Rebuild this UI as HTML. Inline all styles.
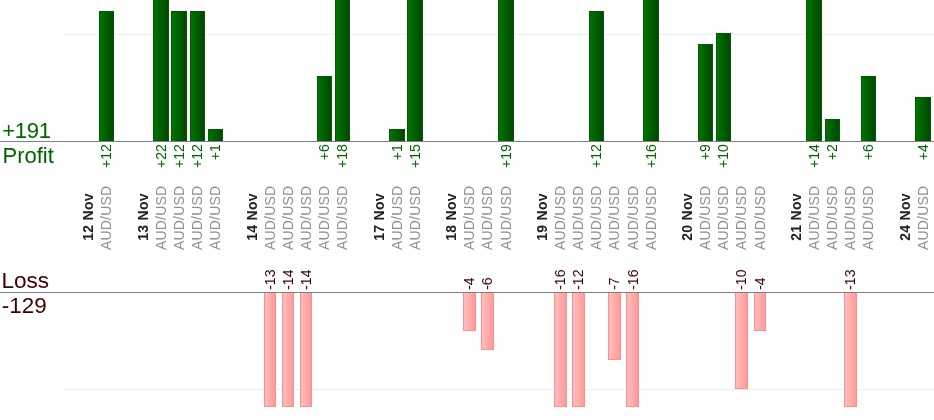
<!DOCTYPE html>
<html><head><meta charset="utf-8"><title>chart</title>
<style>
html,body{margin:0;padding:0;background:#fff;}
body{width:934px;height:420px;overflow:hidden;position:relative;font-family:"Liberation Sans",sans-serif;}
svg{position:absolute;left:0;top:0;display:block;will-change:transform;}
text{font-family:"Liberation Sans",sans-serif;}
.v{font-size:14px;}
.d{font-size:14px;font-weight:bold;fill:#222;letter-spacing:0.28px;}
.p{font-size:14px;fill:#909090;letter-spacing:0.17px;}
.g{fill:#006400;}
.m{fill:#400000;}
.big{font-size:22px;}
</style></head><body>
<svg width="934" height="420" viewBox="0 0 934 420">
<defs>
<linearGradient id="g" x1="0" y1="0" x2="1" y2="0"><stop offset="0" stop-color="#007600"/><stop offset="1" stop-color="#004600"/></linearGradient>
<linearGradient id="r" x1="0" y1="0" x2="1" y2="0"><stop offset="0" stop-color="#ffc0c0"/><stop offset="1" stop-color="#ff9898"/></linearGradient>
</defs>
<rect x="63" y="34" width="871" height="1" fill="#eeeeee"/>
<rect x="63" y="389" width="871" height="1" fill="#eeeeee"/>

<rect x="99.5" y="11.5" width="14" height="130" fill="url(#g)" stroke="#005c00" stroke-width="1"/>
<rect x="153.5" y="-4.5" width="15" height="146" fill="url(#g)" stroke="#005c00" stroke-width="1"/>
<rect x="171.5" y="11.5" width="15" height="130" fill="url(#g)" stroke="#005c00" stroke-width="1"/>
<rect x="190.5" y="11.5" width="14" height="130" fill="url(#g)" stroke="#005c00" stroke-width="1"/>
<rect x="208.5" y="129.5" width="14" height="12" fill="url(#g)" stroke="#005c00" stroke-width="1"/>
<rect x="317.5" y="76.5" width="14" height="65" fill="url(#g)" stroke="#005c00" stroke-width="1"/>
<rect x="335.5" y="-4.5" width="14" height="146" fill="url(#g)" stroke="#005c00" stroke-width="1"/>
<rect x="389.5" y="129.5" width="15" height="12" fill="url(#g)" stroke="#005c00" stroke-width="1"/>
<rect x="407.5" y="-4.5" width="15" height="146" fill="url(#g)" stroke="#005c00" stroke-width="1"/>
<rect x="498.5" y="-4.5" width="15" height="146" fill="url(#g)" stroke="#005c00" stroke-width="1"/>
<rect x="589.5" y="11.5" width="14" height="130" fill="url(#g)" stroke="#005c00" stroke-width="1"/>
<rect x="643.5" y="-4.5" width="15" height="146" fill="url(#g)" stroke="#005c00" stroke-width="1"/>
<rect x="698.5" y="44.5" width="14" height="97" fill="url(#g)" stroke="#005c00" stroke-width="1"/>
<rect x="716.5" y="33.5" width="14" height="108" fill="url(#g)" stroke="#005c00" stroke-width="1"/>
<rect x="806.5" y="-4.5" width="15" height="146" fill="url(#g)" stroke="#005c00" stroke-width="1"/>
<rect x="825.5" y="119.5" width="14" height="22" fill="url(#g)" stroke="#005c00" stroke-width="1"/>
<rect x="861.5" y="76.5" width="14" height="65" fill="url(#g)" stroke="#005c00" stroke-width="1"/>
<rect x="915.5" y="97.5" width="15" height="44" fill="url(#g)" stroke="#005c00" stroke-width="1"/>
<rect x="264.5" y="292.5" width="11" height="114" fill="url(#r)" stroke="#ff8e8e" stroke-width="1"/>
<rect x="282.5" y="292.5" width="11" height="114" fill="url(#r)" stroke="#ff8e8e" stroke-width="1"/>
<rect x="300.5" y="292.5" width="11" height="114" fill="url(#r)" stroke="#ff8e8e" stroke-width="1"/>
<rect x="463.5" y="292.5" width="12" height="38" fill="url(#r)" stroke="#ff8e8e" stroke-width="1"/>
<rect x="481.5" y="292.5" width="12" height="57" fill="url(#r)" stroke="#ff8e8e" stroke-width="1"/>
<rect x="554.5" y="292.5" width="12" height="114" fill="url(#r)" stroke="#ff8e8e" stroke-width="1"/>
<rect x="572.5" y="292.5" width="12" height="114" fill="url(#r)" stroke="#ff8e8e" stroke-width="1"/>
<rect x="608.5" y="292.5" width="12" height="67" fill="url(#r)" stroke="#ff8e8e" stroke-width="1"/>
<rect x="626.5" y="292.5" width="12" height="114" fill="url(#r)" stroke="#ff8e8e" stroke-width="1"/>
<rect x="735.5" y="292.5" width="12" height="96" fill="url(#r)" stroke="#ff8e8e" stroke-width="1"/>
<rect x="754.5" y="292.5" width="11" height="38" fill="url(#r)" stroke="#ff8e8e" stroke-width="1"/>
<rect x="844.5" y="292.5" width="12" height="114" fill="url(#r)" stroke="#ff8e8e" stroke-width="1"/>
<rect x="0" y="141" width="934" height="1" fill="#808080"/>
<rect x="0" y="292" width="934" height="1" fill="#808080"/>
<text class="v g" transform="translate(111.34,144.2) rotate(-90)" text-anchor="end">+12</text>
<text class="v g" transform="translate(165.78,144.2) rotate(-90)" text-anchor="end">+22</text>
<text class="v g" transform="translate(183.92,144.2) rotate(-90)" text-anchor="end">+12</text>
<text class="v g" transform="translate(202.06,144.2) rotate(-90)" text-anchor="end">+12</text>
<text class="v g" transform="translate(220.21,144.2) rotate(-90)" text-anchor="end">+1</text>
<text class="v g" transform="translate(329.07,144.2) rotate(-90)" text-anchor="end">+6</text>
<text class="v g" transform="translate(347.22,144.2) rotate(-90)" text-anchor="end">+18</text>
<text class="v g" transform="translate(401.65,144.2) rotate(-90)" text-anchor="end">+1</text>
<text class="v g" transform="translate(419.79,144.2) rotate(-90)" text-anchor="end">+15</text>
<text class="v g" transform="translate(510.51,144.2) rotate(-90)" text-anchor="end">+19</text>
<text class="v g" transform="translate(601.23,144.2) rotate(-90)" text-anchor="end">+12</text>
<text class="v g" transform="translate(655.66,144.2) rotate(-90)" text-anchor="end">+16</text>
<text class="v g" transform="translate(710.10,144.2) rotate(-90)" text-anchor="end">+9</text>
<text class="v g" transform="translate(728.24,144.2) rotate(-90)" text-anchor="end">+10</text>
<text class="v g" transform="translate(818.96,144.2) rotate(-90)" text-anchor="end">+14</text>
<text class="v g" transform="translate(837.10,144.2) rotate(-90)" text-anchor="end">+2</text>
<text class="v g" transform="translate(873.39,144.2) rotate(-90)" text-anchor="end">+6</text>
<text class="v g" transform="translate(927.82,144.2) rotate(-90)" text-anchor="end">+4</text>
<text class="v m" transform="translate(274.64,289.8) rotate(-90)">-13</text>
<text class="v m" transform="translate(292.78,289.8) rotate(-90)">-14</text>
<text class="v m" transform="translate(310.93,289.8) rotate(-90)">-14</text>
<text class="v m" transform="translate(474.22,289.8) rotate(-90)">-4</text>
<text class="v m" transform="translate(492.37,289.8) rotate(-90)">-6</text>
<text class="v m" transform="translate(564.94,289.8) rotate(-90)">-16</text>
<text class="v m" transform="translate(583.09,289.8) rotate(-90)">-12</text>
<text class="v m" transform="translate(619.38,289.8) rotate(-90)">-7</text>
<text class="v m" transform="translate(637.52,289.8) rotate(-90)">-16</text>
<text class="v m" transform="translate(746.38,289.8) rotate(-90)">-10</text>
<text class="v m" transform="translate(764.53,289.8) rotate(-90)">-4</text>
<text class="v m" transform="translate(855.25,289.8) rotate(-90)">-13</text>
<text class="d" transform="translate(93.20,240.8) rotate(-90)">12 Nov</text>
<text class="d" transform="translate(147.63,240.8) rotate(-90)">13 Nov</text>
<text class="d" transform="translate(256.50,240.8) rotate(-90)">14 Nov</text>
<text class="d" transform="translate(383.50,240.8) rotate(-90)">17 Nov</text>
<text class="d" transform="translate(456.08,240.8) rotate(-90)">18 Nov</text>
<text class="d" transform="translate(546.80,240.8) rotate(-90)">19 Nov</text>
<text class="d" transform="translate(691.95,240.8) rotate(-90)">20 Nov</text>
<text class="d" transform="translate(800.82,240.8) rotate(-90)">21 Nov</text>
<text class="d" transform="translate(909.68,240.8) rotate(-90)">24 Nov</text>
<text class="p" transform="translate(111.34,250) rotate(-90)">AUD/USD</text>
<text class="p" transform="translate(165.78,250) rotate(-90)">AUD/USD</text>
<text class="p" transform="translate(183.92,250) rotate(-90)">AUD/USD</text>
<text class="p" transform="translate(202.06,250) rotate(-90)">AUD/USD</text>
<text class="p" transform="translate(220.21,250) rotate(-90)">AUD/USD</text>
<text class="p" transform="translate(274.64,250) rotate(-90)">AUD/USD</text>
<text class="p" transform="translate(292.78,250) rotate(-90)">AUD/USD</text>
<text class="p" transform="translate(310.93,250) rotate(-90)">AUD/USD</text>
<text class="p" transform="translate(329.07,250) rotate(-90)">AUD/USD</text>
<text class="p" transform="translate(347.22,250) rotate(-90)">AUD/USD</text>
<text class="p" transform="translate(401.65,250) rotate(-90)">AUD/USD</text>
<text class="p" transform="translate(419.79,250) rotate(-90)">AUD/USD</text>
<text class="p" transform="translate(474.22,250) rotate(-90)">AUD/USD</text>
<text class="p" transform="translate(492.37,250) rotate(-90)">AUD/USD</text>
<text class="p" transform="translate(510.51,250) rotate(-90)">AUD/USD</text>
<text class="p" transform="translate(564.94,250) rotate(-90)">AUD/USD</text>
<text class="p" transform="translate(583.09,250) rotate(-90)">AUD/USD</text>
<text class="p" transform="translate(601.23,250) rotate(-90)">AUD/USD</text>
<text class="p" transform="translate(619.38,250) rotate(-90)">AUD/USD</text>
<text class="p" transform="translate(637.52,250) rotate(-90)">AUD/USD</text>
<text class="p" transform="translate(655.66,250) rotate(-90)">AUD/USD</text>
<text class="p" transform="translate(710.10,250) rotate(-90)">AUD/USD</text>
<text class="p" transform="translate(728.24,250) rotate(-90)">AUD/USD</text>
<text class="p" transform="translate(746.38,250) rotate(-90)">AUD/USD</text>
<text class="p" transform="translate(764.53,250) rotate(-90)">AUD/USD</text>
<text class="p" transform="translate(818.96,250) rotate(-90)">AUD/USD</text>
<text class="p" transform="translate(837.10,250) rotate(-90)">AUD/USD</text>
<text class="p" transform="translate(855.25,250) rotate(-90)">AUD/USD</text>
<text class="p" transform="translate(873.39,250) rotate(-90)">AUD/USD</text>
<text class="p" transform="translate(927.82,250) rotate(-90)">AUD/USD</text>
<text class="big g" x="2.3" y="137.6" style="letter-spacing:-0.3px">+191</text>
<text class="big g" x="2.5" y="162.7">Profit</text>
<text class="big m" x="1.4" y="287.6" style="font-size:22.6px">Loss</text>
<text class="big m" x="1.8" y="313.4" style="font-size:22.4px">-129</text>
</svg></body></html>
